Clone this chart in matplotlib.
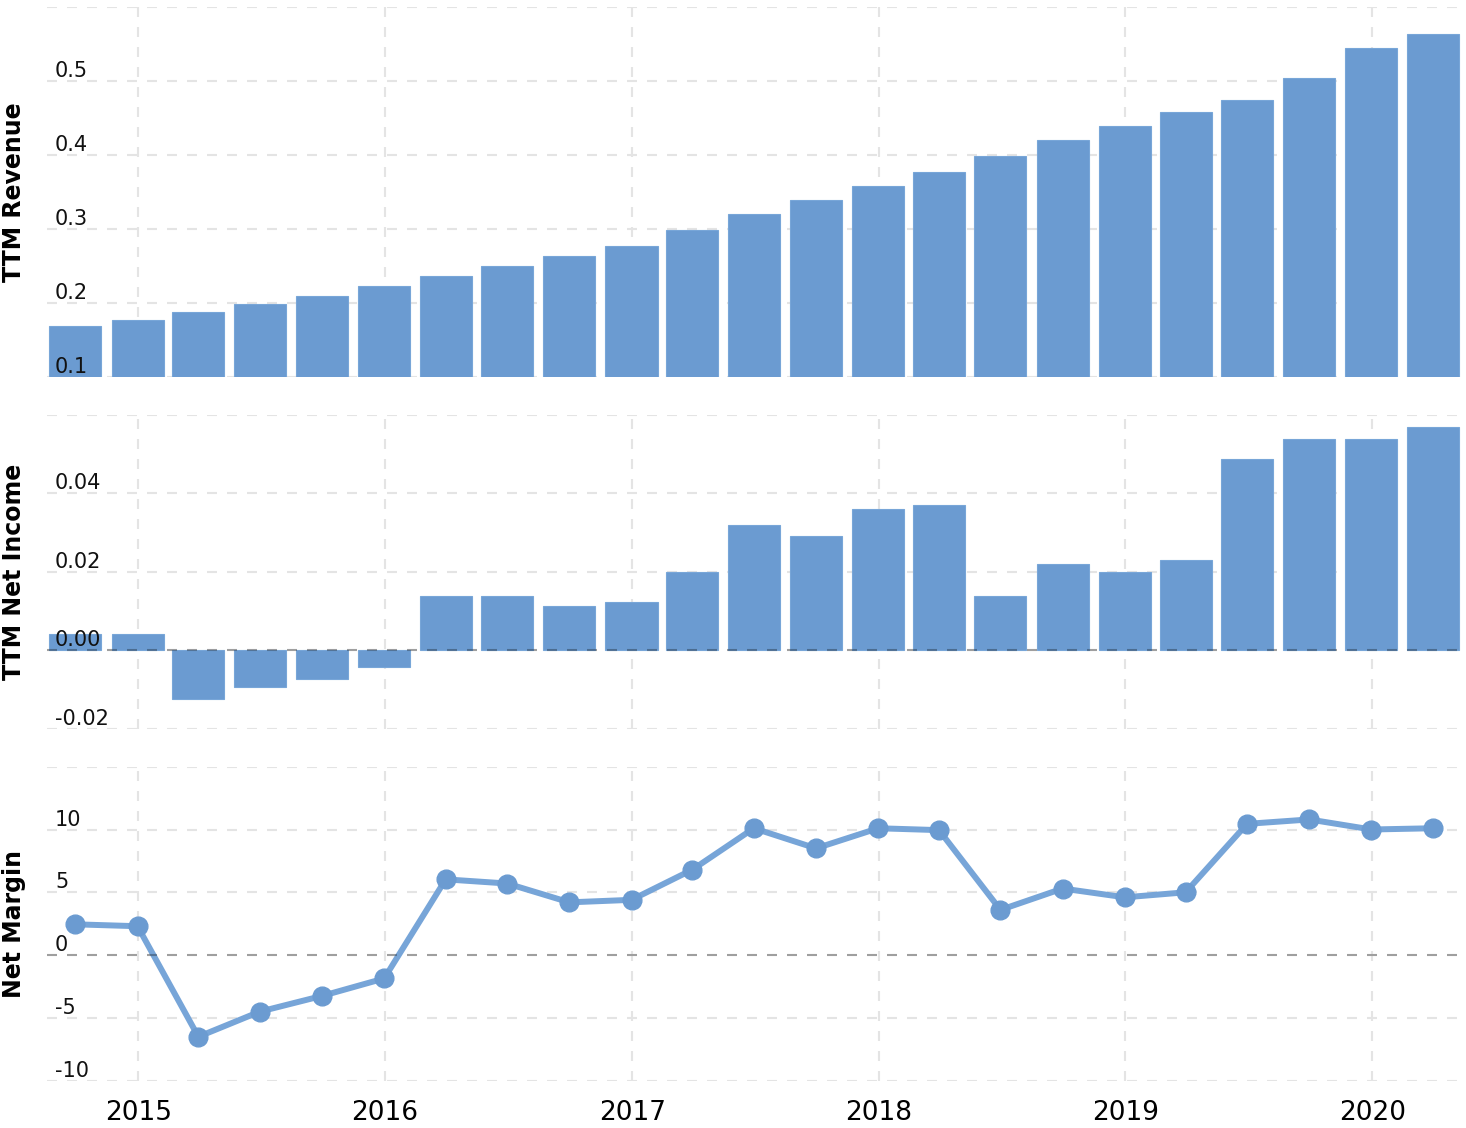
import pandas as pd
import matplotlib
matplotlib.use("Agg")
import matplotlib.pyplot as plt
import matplotlib.dates as mdates
import matplotlib.transforms as mtransforms

# quarter-end dates
dates = pd.to_datetime([
    "2014-09-30", "2014-12-31",
    "2015-03-31", "2015-06-30", "2015-09-30", "2015-12-31",
    "2016-03-31", "2016-06-30", "2016-09-30", "2016-12-31",
    "2017-03-31", "2017-06-30", "2017-09-30", "2017-12-31",
    "2018-03-31", "2018-06-30", "2018-09-30", "2018-12-31",
    "2019-03-31", "2019-06-30", "2019-09-30", "2019-12-31",
    "2020-03-31",
])

ttm_revenue = [0.169, 0.177, 0.188, 0.199, 0.209, 0.223, 0.236, 0.250, 0.264, 0.277,
               0.299, 0.320, 0.339, 0.358, 0.377, 0.399, 0.420, 0.439, 0.458, 0.474,
               0.504, 0.545, 0.564]
ttm_net_income = [0.0041, 0.0041, -0.0125, -0.0095, -0.0074, -0.0044, 0.0137, 0.0137,
                  0.0112, 0.0122, 0.0198, 0.0320, 0.0290, 0.0360, 0.0371, 0.0137,
                  0.0219, 0.0198, 0.0229, 0.0488, 0.0539, 0.0539, 0.0569]
net_margin = [2.45, 2.3, -6.5, -4.5, -3.25, -1.86, 6.03, 5.7, 4.2, 4.4, 6.8, 10.1,
              8.5, 10.1, 9.95, 3.6, 5.3, 4.6, 5.0, 10.45, 10.8, 10.0, 10.1]

rev_ticks = [0.1, 0.2, 0.3, 0.4, 0.5, 0.6]
rev_labels = ["0.1", "0.2", "0.3", "0.4", "0.5", ""]
ni_ticks = [-0.02, 0.0, 0.02, 0.04, 0.06]
ni_labels = ["-0.02", "0.00", "0.02", "0.04", ""]
nm_ticks = [-10, -5, 0, 5, 10, 15]
nm_labels = ["-10", "-5", "0", "5", "10", ""]
years = pd.to_datetime(["2015-01-01", "2016-01-01", "2017-01-01",
                        "2018-01-01", "2019-01-01", "2020-01-01"])

bar_color = "#6b9bd1"
line_color = "#77a5d8"
grid_color = "#e4e4e4"

W, H = 1466, 1128
fig = plt.figure(figsize=(W / 100, H / 100), dpi=100)

left = 47 / W
width = 1415 / W
ax1 = fig.add_axes([left, 1 - 377 / H, width, 370 / H])
ax2 = fig.add_axes([left, 1 - 728.7 / H, width, 314 / H])
ax3 = fig.add_axes([left, 1 - 1080.7 / H, width, 314 / H])

bar_w = pd.Timedelta(days=77)
ax1.bar(dates, ttm_revenue, width=bar_w, color=bar_color, edgecolor="#78a6d8",
        linewidth=0.8, zorder=2)
ax2.bar(dates, ttm_net_income, width=bar_w, color=bar_color, edgecolor="#78a6d8",
        linewidth=0.8, zorder=2)
ax3.plot(dates, net_margin, color=line_color, linewidth=4.3, zorder=3)
ax3.plot(dates, net_margin, "o", color=bar_color, markersize=13.5, zorder=4)

xmin = pd.Timestamp("2014-08-19")
xmax = pd.Timestamp("2020-05-13")

panels = [
    (ax1, rev_ticks, rev_labels, (0.1, 0.6), "TTM Revenue"),
    (ax2, ni_ticks, ni_labels, (-0.02, 0.06), "TTM Net Income"),
    (ax3, nm_ticks, nm_labels, (-10, 15), "Net Margin"),
]

for ax, ticks, labels, ylim, title in panels:
    ax.set_xlim(xmin, xmax)
    ax.set_ylim(*ylim)
    ax.set_yticks(ticks)
    ax.set_xticks(years)
    ax.set_axisbelow(True)
    ax.grid(True, color=grid_color, linewidth=1.5, linestyle=(0, (4.8, 4.8)))
    ax.tick_params(axis="both", length=0, labelleft=False, labelbottom=False)
    for s in ax.spines.values():
        s.set_visible(False)
    trans = mtransforms.blended_transform_factory(ax.transAxes, ax.transData)
    for t, lab in zip(ticks, labels):
        ax.text(0.0057, t, lab, transform=trans, ha="left", va="bottom",
                fontsize=15, color="#111111", zorder=6)
    pos = ax.get_position()
    fig.text(14.5 / W, pos.y0 + pos.height / 2, title, rotation=90,
             ha="center", va="center", fontsize=17, fontweight="bold")

for ax in (ax2, ax3):
    ax.axhline(0, color="black", alpha=0.3, linewidth=1.5,
               linestyle=(0, (4.8, 4.8)), zorder=5)

ax3.tick_params(axis="x", labelbottom=True, labelsize=19, pad=14)
ax3.xaxis.set_major_formatter(mdates.DateFormatter("%Y"))

fig.savefig("out.png", dpi=100)
